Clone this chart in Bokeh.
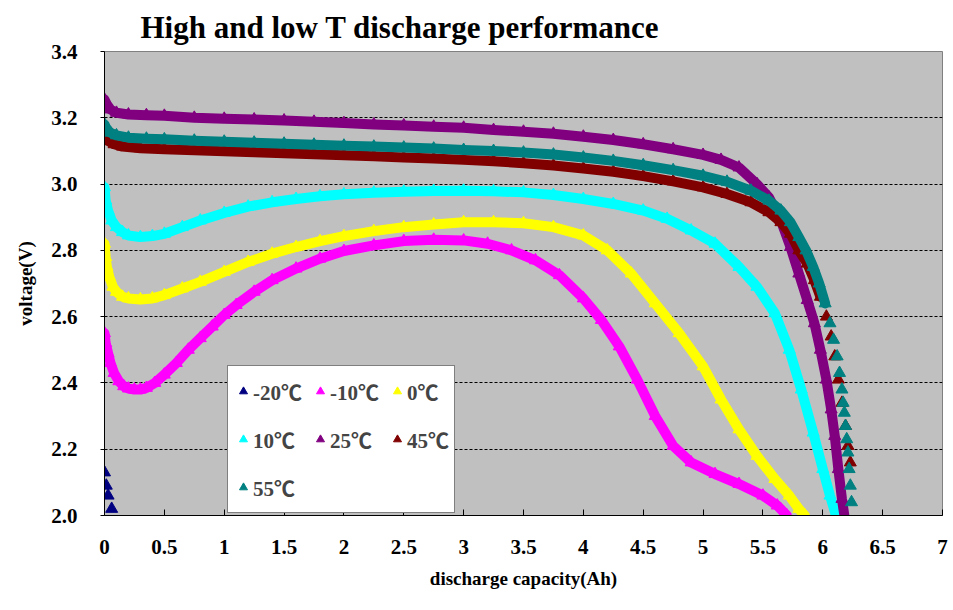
from bokeh.plotting import figure
from bokeh.models import Legend, LegendItem, FixedTicker, Range1d, NumeralTickFormatter
from bokeh.embed import file_html
from bokeh.resources import INLINE

# ---------------- data ----------------
title_text = "High and low T discharge performance"
series_names = ["-20℃", "-10℃", "0℃", "10℃", "25℃", "45℃", "55℃"]

x_m20 = [0.0, 0.015, 0.03, 0.06]
v_m20 = [2.13, 2.09, 2.06, 2.02]

x_m10 = [0, 0.01, 0.03, 0.05, 0.08, 0.12, 0.16, 0.2, 0.25, 0.3, 0.35, 0.42, 0.5, 0.6, 0.7,
         0.8, 0.9, 1.0, 1.1, 1.25, 1.4, 1.6, 1.8, 2.0, 2.25, 2.5, 2.75, 3.0, 3.2, 3.4, 3.6,
         3.8, 4.0, 4.15, 4.3, 4.45, 4.6, 4.75, 4.9, 5.1, 5.3, 5.5, 5.62, 5.7]
v_m10 = [2.55, 2.52, 2.49, 2.46, 2.43, 2.405, 2.39, 2.383, 2.38, 2.38, 2.385, 2.4, 2.425,
         2.46, 2.5, 2.535, 2.57, 2.605, 2.635, 2.675, 2.71, 2.745, 2.775, 2.798, 2.815,
         2.828, 2.832, 2.83, 2.82, 2.8, 2.77, 2.725, 2.655, 2.59, 2.51, 2.41, 2.3, 2.21,
         2.16, 2.125, 2.095, 2.06, 2.03, 2.0]

x_0 = [0, 0.01, 0.02, 0.04, 0.07, 0.1, 0.15, 0.2, 0.3, 0.4, 0.5, 0.65, 0.8, 1.0, 1.2, 1.4,
       1.6, 1.8, 2.0, 2.25, 2.5, 2.75, 3.0, 3.25, 3.5, 3.75, 4.0, 4.2, 4.4, 4.6, 4.8, 5.0,
       5.15, 5.3, 5.45, 5.6, 5.72, 5.8, 5.85]
v_0 = [2.82, 2.78, 2.75, 2.72, 2.69, 2.675, 2.66, 2.655, 2.652, 2.655, 2.665, 2.685, 2.705,
       2.735, 2.765, 2.79, 2.81, 2.828, 2.843, 2.858, 2.87, 2.878, 2.885, 2.885, 2.882,
       2.87, 2.845, 2.8, 2.73, 2.64, 2.55, 2.45, 2.35, 2.26, 2.18, 2.11, 2.06, 2.02, 2.0]

x_10 = [0, 0.01, 0.03, 0.06, 0.1, 0.15, 0.2, 0.3, 0.4, 0.5, 0.65, 0.8, 1.0, 1.2, 1.4, 1.6,
        1.8, 2.0, 2.25, 2.5, 2.75, 3.0, 3.25, 3.5, 3.75, 4.0, 4.25, 4.5, 4.7, 4.9, 5.1, 5.3,
        5.45, 5.6, 5.72, 5.82, 5.92, 6.0, 6.06, 6.11]
v_10 = [2.99, 2.95, 2.92, 2.89, 2.87, 2.855, 2.845, 2.84, 2.843, 2.85, 2.87, 2.89, 2.913,
        2.932, 2.945, 2.955, 2.963, 2.969, 2.974, 2.977, 2.979, 2.98, 2.978, 2.975, 2.967,
        2.955, 2.94, 2.92, 2.895, 2.86, 2.82, 2.75, 2.69, 2.61, 2.5, 2.38, 2.25, 2.14,
        2.06, 2.0]

x_25 = [0, 0.02, 0.05, 0.1, 0.2, 0.35, 0.5, 0.75, 1.0, 1.25, 1.5, 1.75, 2.0, 2.25, 2.5,
        2.75, 3.0, 3.25, 3.5, 3.75, 4.0, 4.25, 4.5, 4.75, 5.0, 5.15, 5.3, 5.45, 5.55, 5.65,
        5.73, 5.8, 5.87, 5.93, 5.98, 6.03, 6.07, 6.1, 6.13, 6.16, 6.18]
v_25 = [3.255, 3.24, 3.225, 3.215, 3.21, 3.208, 3.206, 3.2, 3.197, 3.195, 3.192, 3.188,
        3.184, 3.18, 3.177, 3.173, 3.17, 3.163, 3.158, 3.152, 3.143, 3.133, 3.12, 3.105,
        3.088, 3.073, 3.05, 3.0, 2.96, 2.89, 2.81, 2.73, 2.65, 2.58, 2.5, 2.41, 2.32,
        2.24, 2.14, 2.05, 2.0]

x_45 = [0, 0.03, 0.08, 0.15, 0.3, 0.5, 0.75, 1.0, 1.25, 1.5, 1.75, 2.0, 2.25, 2.5, 2.75,
        3.0, 3.25, 3.5, 3.75, 4.0, 4.25, 4.5, 4.75, 5.0, 5.2, 5.4, 5.55, 5.65, 5.73, 5.8,
        5.87, 5.93, 5.98, 6.03, 6.07, 6.1, 6.13, 6.16, 6.19, 6.21, 6.23]
v_45 = [3.14, 3.13, 3.12, 3.113, 3.108, 3.105, 3.102, 3.099, 3.096, 3.093, 3.09, 3.087,
        3.084, 3.08, 3.077, 3.073, 3.069, 3.063, 3.056, 3.047, 3.037, 3.024, 3.008, 2.99,
        2.97, 2.945, 2.915, 2.885, 2.85, 2.8, 2.76, 2.71, 2.66, 2.6, 2.54, 2.48, 2.41,
        2.34, 2.27, 2.21, 2.16]

x_55 = [0, 0.02, 0.05, 0.1, 0.2, 0.35, 0.5, 0.75, 1.0, 1.25, 1.5, 1.75, 2.0, 2.25, 2.5,
        2.75, 3.0, 3.25, 3.5, 3.75, 4.0, 4.25, 4.5, 4.75, 5.0, 5.2, 5.4, 5.55, 5.65, 5.73,
        5.8, 5.86, 5.92, 5.97, 6.02, 6.06, 6.09, 6.12, 6.14, 6.16, 6.17, 6.18, 6.19, 6.2,
        6.21, 6.22, 6.23, 6.24]
v_55 = [3.18, 3.165, 3.155, 3.147, 3.14, 3.137, 3.135, 3.131, 3.128, 3.125, 3.122, 3.119,
        3.116, 3.113, 3.11, 3.107, 3.103, 3.1, 3.095, 3.089, 3.08, 3.07, 3.057, 3.042,
        3.025, 3.007, 2.98, 2.95, 2.92, 2.885, 2.84, 2.8, 2.75, 2.7, 2.64, 2.58, 2.53,
        2.48, 2.43, 2.38, 2.34, 2.31, 2.27, 2.23, 2.19, 2.14, 2.09, 2.04]

x_ticks = [0, 0.5, 1, 1.5, 2, 2.5, 3, 3.5, 4, 4.5, 5, 5.5, 6, 6.5, 7]
y_ticks = [2.0, 2.2, 2.4, 2.6, 2.8, 3.0, 3.2, 3.4]
y_grid = [2.2, 2.4, 2.6, 2.8, 3.0, 3.2]

# ---------------- styling ----------------
colors = ["#000080", "#FF00FF", "#FFFF00", "#00FFFF", "#800080", "#800000", "#008080"]
# voltage below which markers are no longer joined by a band (None = no band)
band_cutoff = [None, 0.0, 0.0, 0.0, 0.0, 2.62, 2.62]
FONT = "Liberation Serif"
LEG_FONT = "'Liberation Serif', 'Noto Sans CJK SC'"

p = figure(width=950, height=605, output_backend="svg", toolbar_location=None,
           x_range=Range1d(0, 7), y_range=Range1d(2.0, 3.4),
           min_border_left=104, min_border_right=8, min_border_top=51, min_border_bottom=90)
p.background_fill_color = "#C0C0C0"
p.border_fill_color = "white"
p.outline_line_color = "#808080"
p.outline_line_width = 1

p.title.text = title_text
p.title.text_font = FONT
p.title.text_font_size = "31px"
p.title.text_font_style = "bold"
p.title.text_color = "black"
p.title.align = "left"
p.title.offset = 36
p.title.standoff = 14

xs = [x_m20, x_m10, x_0, x_10, x_25, x_45, x_55]
vs = [v_m20, v_m10, v_0, v_10, v_25, v_45, v_55]

items = []
for name, x, v, c, cut in zip(series_names, xs, vs, colors, band_cutoff):
    if cut is not None:
        lx = [a for a, b in zip(x, v) if b >= cut]
        lv = [b for b in v if b >= cut]
        p.line(lx, lv, line_color=c, line_width=10, line_join="round", line_cap="round")
    r = p.scatter(x, v, marker="triangle", size=12, fill_color=c, line_color=c)
    items.append(LegendItem(label=name, renderers=[r]))

# axes
for ax in (p.xaxis[0], p.yaxis[0]):
    ax.axis_line_color = "black"
    ax.axis_line_width = 1
    ax.major_tick_line_color = "black"
    ax.minor_tick_line_color = None
    ax.major_label_text_font = FONT
    ax.major_label_text_font_size = "21px"
    ax.major_label_text_font_style = "bold"
    ax.major_label_text_color = "black"
    ax.axis_label_text_font = FONT
    ax.axis_label_text_font_size = "19px"
    ax.axis_label_text_font_style = "bold"
    ax.axis_label_text_color = "black"

p.xaxis.ticker = FixedTicker(ticks=x_ticks)
p.xaxis.formatter = NumeralTickFormatter(format="0.[0]")
p.xaxis.major_tick_in = 6
p.xaxis.major_tick_out = 0
p.xaxis.major_label_standoff = 24
p.xaxis.axis_label = "discharge capacity(Ah)"
p.xaxis.axis_label_standoff = 11

p.yaxis.ticker = FixedTicker(ticks=y_ticks)
p.yaxis.formatter = NumeralTickFormatter(format="0.0")
p.yaxis.major_tick_in = 0
p.yaxis.major_tick_out = 4
p.yaxis.major_label_standoff = 23
p.yaxis.axis_label = "voltage(V)"
p.yaxis.axis_label_standoff = 12

p.xgrid.visible = False
p.ygrid.ticker = FixedTicker(ticks=y_grid)
p.ygrid.grid_line_color = "black"
p.ygrid.grid_line_dash = "3 2"
p.ygrid.grid_line_width = 1

legend = Legend(items=items, orientation="horizontal", ncols=3, location=(123, 2))
legend.background_fill_color = "white"
legend.background_fill_alpha = 1
legend.border_line_color = "black"
legend.border_line_width = 1
legend.label_text_font = LEG_FONT
legend.label_text_font_size = "21px"
legend.label_text_font_style = "bold"
legend.glyph_width = 20
legend.glyph_height = 26
legend.label_standoff = 0
legend.label_height = 40
legend.spacing = 8
legend.padding = 5
legend.margin = 0
p.add_layout(legend)

open("out.html", "w").write(file_html(p, INLINE))
